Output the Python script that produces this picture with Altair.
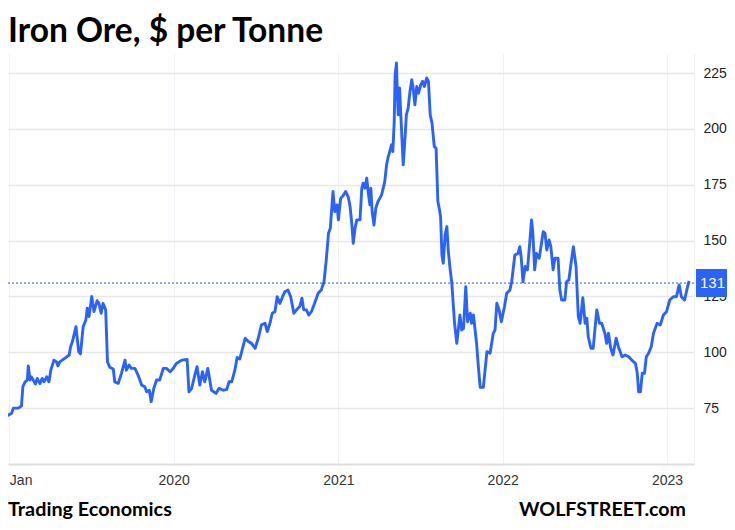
import altair as alt
import pandas as pd

dates = [
    "2018-12-11", "2018-12-19", "2018-12-26", "2019-01-06", "2019-01-10", "2019-01-21", "2019-01-28", "2019-01-31",
    "2019-02-05", "2019-02-10", "2019-02-12", "2019-02-16", "2019-02-19", "2019-02-23", "2019-02-28", "2019-03-04",
    "2019-03-10", "2019-03-15", "2019-03-19", "2019-03-25", "2019-03-30", "2019-04-03", "2019-04-10", "2019-04-16",
    "2019-04-19", "2019-04-23", "2019-05-04", "2019-05-14", "2019-05-17", "2019-05-21", "2019-05-29", "2019-06-04",
    "2019-06-08", "2019-06-14", "2019-06-20", "2019-06-23", "2019-06-27", "2019-07-03", "2019-07-08", "2019-07-15",
    "2019-07-19", "2019-07-24", "2019-07-28", "2019-08-03", "2019-08-07", "2019-08-12", "2019-08-20", "2019-08-23",
    "2019-08-31", "2019-09-07", "2019-09-15", "2019-09-18", "2019-09-24", "2019-09-29", "2019-10-07", "2019-10-14",
    "2019-10-22", "2019-10-29", "2019-11-02", "2019-11-08", "2019-11-12", "2019-11-18", "2019-11-24", "2019-12-01",
    "2019-12-09", "2019-12-16", "2019-12-24", "2019-12-31", "2020-01-07", "2020-01-19", "2020-01-31", "2020-02-04",
    "2020-02-10", "2020-02-17", "2020-02-22", "2020-02-28", "2020-03-05", "2020-03-10", "2020-03-17", "2020-03-25",
    "2020-04-04", "2020-04-11", "2020-04-20", "2020-04-28", "2020-05-03", "2020-05-09", "2020-05-16", "2020-05-21",
    "2020-05-27", "2020-06-01", "2020-06-08", "2020-06-15", "2020-06-22", "2020-06-30", "2020-07-07", "2020-07-14",
    "2020-07-22", "2020-07-27", "2020-08-02", "2020-08-07", "2020-08-13", "2020-08-18", "2020-08-24", "2020-08-30",
    "2020-09-04", "2020-09-11", "2020-09-17", "2020-09-24", "2020-09-30", "2020-10-07", "2020-10-12", "2020-10-16",
    "2020-10-22", "2020-10-27", "2020-11-02", "2020-11-09", "2020-11-17", "2020-11-24", "2020-11-30", "2020-12-05",
    "2020-12-10", "2020-12-14", "2020-12-20", "2020-12-24", "2020-12-29", "2021-01-01", "2021-01-06", "2021-01-11",
    "2021-01-17", "2021-01-23", "2021-01-27", "2021-01-31", "2021-02-03", "2021-02-07", "2021-02-11", "2021-02-18",
    "2021-02-22", "2021-02-25", "2021-03-01", "2021-03-05", "2021-03-08", "2021-03-12", "2021-03-14", "2021-03-17",
    "2021-03-21", "2021-03-25", "2021-03-30", "2021-04-07", "2021-04-14", "2021-04-18", "2021-04-21", "2021-04-25",
    "2021-04-29", "2021-05-02", "2021-05-05", "2021-05-07", "2021-05-10", "2021-05-12", "2021-05-14", "2021-05-17",
    "2021-05-20", "2021-05-25", "2021-05-29", "2021-06-01", "2021-06-05", "2021-06-09", "2021-06-13", "2021-06-16",
    "2021-06-20", "2021-06-24", "2021-06-28", "2021-07-03", "2021-07-07", "2021-07-11", "2021-07-16", "2021-07-20",
    "2021-07-24", "2021-07-28", "2021-08-02", "2021-08-06", "2021-08-10", "2021-08-13", "2021-08-16", "2021-08-19",
    "2021-08-22", "2021-08-26", "2021-08-30", "2021-09-02", "2021-09-06", "2021-09-10", "2021-09-16", "2021-09-21",
    "2021-09-28", "2021-10-02", "2021-10-06", "2021-10-11", "2021-10-15", "2021-10-21", "2021-10-24", "2021-10-28",
    "2021-11-04", "2021-11-08", "2021-11-12", "2021-11-19", "2021-11-27", "2021-12-04", "2021-12-11", "2021-12-15",
    "2021-12-19", "2021-12-24", "2021-12-29", "2022-01-05", "2022-01-10", "2022-01-17", "2022-01-21", "2022-01-28",
    "2022-02-04", "2022-02-08", "2022-02-11", "2022-02-15", "2022-02-20", "2022-02-25", "2022-03-02", "2022-03-06",
    "2022-03-09", "2022-03-13", "2022-03-17", "2022-03-23", "2022-03-27", "2022-04-01", "2022-04-05", "2022-04-09",
    "2022-04-14", "2022-04-18", "2022-04-23", "2022-04-27", "2022-05-04", "2022-05-08", "2022-05-12", "2022-05-19",
    "2022-05-23", "2022-05-28", "2022-06-02", "2022-06-07", "2022-06-13", "2022-06-18", "2022-06-22", "2022-06-28",
    "2022-07-03", "2022-07-07", "2022-07-10", "2022-07-16", "2022-07-21", "2022-07-29", "2022-08-04", "2022-08-09",
    "2022-08-16", "2022-08-20", "2022-08-24", "2022-08-29", "2022-09-03", "2022-09-10", "2022-09-15", "2022-09-23",
    "2022-09-30", "2022-10-08", "2022-10-15", "2022-10-23", "2022-10-27", "2022-10-30", "2022-11-03", "2022-11-07",
    "2022-11-12", "2022-11-16", "2022-11-21", "2022-11-27", "2022-12-02", "2022-12-10", "2022-12-17", "2022-12-24",
    "2022-12-31", "2023-01-07", "2023-01-15", "2023-01-22", "2023-01-28", "2023-02-02", "2023-02-09", "2023-02-14",
    "2023-02-19",
]

prices = [
    66.7, 69, 71.5, 72.7, 75, 75, 76, 84.6,
    86.8, 87.6, 93.9, 87.6, 89, 87.6, 85.8, 88.3,
    86, 88.3, 86.8, 89, 86.8, 91.9, 96.5, 95.7,
    93.9, 95.7, 97.3, 98.8, 102.5, 104.7, 111.5, 100.3,
    99.3, 111.5, 114.5, 119.7, 116, 125, 118.2, 123.1,
    121.9, 117.5, 121.9, 119, 95.8, 93.3, 92.5, 86.8,
    86.1, 90.6, 96.5, 92, 94.3, 92.8, 92.8, 89.8,
    85.3, 84.6, 82.3, 83, 77.9, 83.9, 87.6, 87.6,
    92.8, 92.8, 91.3, 92.8, 95, 96.5, 96.8, 82.3,
    83.9, 89.8, 93.6, 85.3, 91.3, 86.8, 92.8, 83,
    81.6, 83.9, 83, 83.4, 86.8, 86.8, 92, 97.7,
    97, 101, 106.3, 104.8, 104, 101.8, 106.3, 112.3,
    113, 109.3, 113, 117.5, 118.2, 124.9, 121.9, 124.9,
    127.1, 127.9, 124.9, 117.5, 119, 120.5, 124.2, 119,
    119, 116.7, 118.2, 121.9, 126.4, 127.9, 131.6, 141.3,
    153.3, 155.5, 172, 163, 166, 159.3, 169, 170,
    172, 169.5, 165.2, 157, 148.8, 155.6, 159.3, 159.3,
    173.5, 175.7, 173.5, 178, 172, 166, 173.5, 163,
    157, 164.5, 167.5, 170.5, 176.4, 183.9, 186.9, 189.9,
    192.9, 189.9, 203.3, 224.2, 229.5, 215.3, 206.3, 218.3,
    204.8, 183.9, 195.9, 206.3, 209.3, 216.8, 222, 218.3,
    210.8, 219, 216, 219.8, 221.3, 219, 222.8, 221.3,
    206.3, 202.6, 192.1, 191.4, 167.5, 164.5, 160.8, 143.6,
    139.9, 152.6, 156.3, 145.8, 137.6, 130.9, 113, 104,
    116.7, 110, 110.7, 129.4, 113.7, 117.5, 113, 116.7,
    104, 93.5, 84.3, 84.3, 100.3, 99.6, 108.5, 110,
    122, 119, 113.7, 120.5, 126.4, 127.9, 131.6, 143.6,
    144.3, 147.3, 142.8, 131.6, 138.4, 136.9, 148.8, 159.3,
    153.3, 136.9, 144.3, 142.1, 147.3, 154, 153.3, 145.8,
    150.3, 147.3, 136.9, 142.1, 142.1, 127.9, 123.4, 123.4,
    131.6, 132.4, 140.1, 147.3, 138.4, 116, 113, 124.5,
    113, 115.2, 107, 101.8, 101.8, 119, 113, 113,
    108.5, 104, 108.5, 101.8, 98.8, 106.3, 102.5, 98,
    98.8, 98, 96.5, 95, 90.6, 82.3, 82.3, 90.6,
    90.6, 98, 99.6, 102.5, 108.5, 113, 112.2, 116.7,
    118.2, 123.4, 124.9, 124.9, 130.2, 124.9, 123.4, 127.9,
    132,
]

last_value = 131
y_ticks = [75, 100, 125, 150, 175, 200, 225]
year_ticks = [2019, 2020, 2021, 2022, 2023]
title_text = "Iron Ore, $ per Tonne"
source_text = "Trading Economics"
brand_text = "WOLFSTREET.com"

BLUE = "#2b63f6"

df = pd.DataFrame({"date": pd.to_datetime(dates), "price": prices})
one = pd.DataFrame({"k": [0]})

x_enc = alt.X(
    "date:T",
    scale=alt.Scale(domain=[alt.DateTime(year=2018, month=12, date=29),
                            alt.DateTime(year=2023, month=3, date=2)]),
    axis=alt.Axis(
        values=[alt.DateTime(year=y, month=1, date=1) for y in year_ticks],
        labelExpr="year(datum.value) == 2019 ? 'Jan' : timeFormat(datum.value, '%Y')",
        labelAlign={"expr": "year(datum.value) == 2019 ? 'left' : 'center'"},
        title=None, grid=True, gridColor="#eef2f6", gridWidth=1,
        ticks=False, domain=True, domainColor="#dedede", domainWidth=2,
        labelFont="Liberation Sans", labelFontSize=14, labelColor="#333333",
        labelPadding=9, labelOverlap=False, labelBound=False, labelFlush=False,
    ),
)
y_enc = alt.Y(
    "price:Q",
    scale=alt.Scale(domain=[50, 234], nice=False, zero=False),
    axis=alt.Axis(
        orient="right", values=y_ticks, title=None, grid=True,
        gridColor="#e8e8e8", gridWidth=1.5, ticks=False, domain=True,
        domainColor="#eef0f2", domainWidth=1,
        labelFont="Liberation Sans", labelFontSize=14, labelColor="#222222",
        labelPadding=9,
    ),
)

line = alt.Chart(df).mark_line(color=BLUE, strokeWidth=2.9, strokeJoin="round", clip=True).encode(x=x_enc, y=y_enc)

ref = alt.Chart(one).mark_rule(color="#3350d8", strokeWidth=1, strokeDash=[2, 2]).encode(
    y=alt.datum(last_value)
)
badge = alt.Chart(one).mark_rule(color=BLUE, strokeWidth=28, strokeCap="butt").encode(
    y=alt.datum(last_value), x=alt.value(688), x2=alt.value(760)
)
badge_text = alt.Chart(one).mark_text(
    text=str(last_value), color="white", fontSize=15, font="Liberation Sans",
    align="right", baseline="middle"
).encode(y=alt.datum(last_value), x=alt.value(717))

title = alt.Chart(one).mark_text(
    text=title_text, font="Lato", fontWeight="bold", fontSize=33.5, color="#000000",
    align="left", baseline="middle"
).encode(x=alt.value(0), y=alt.value(-21))

source = alt.Chart(one).mark_text(
    text=source_text, font="Lato", fontWeight="bold", fontSize=19.8, color="#000000",
    align="left", baseline="middle"
).encode(x=alt.value(0), y=alt.value(457))

brand = alt.Chart(one).mark_text(
    text=brand_text, font="Lato", fontWeight="bold", fontSize=19.6, color="#000000",
    align="right", baseline="middle"
).encode(x=alt.value(678), y=alt.value(457))

chart = alt.layer(line, ref, badge, badge_text, title, source, brand).properties(
    width=686, height=411,
    padding={"left": 0, "top": 45, "right": 33, "bottom": 58},
    autosize=alt.AutoSizeParams(type="none"),
    background="white",
).configure_view(stroke=None)

chart.save("out.html", embed_options={"renderer": "svg", "actions": False})
